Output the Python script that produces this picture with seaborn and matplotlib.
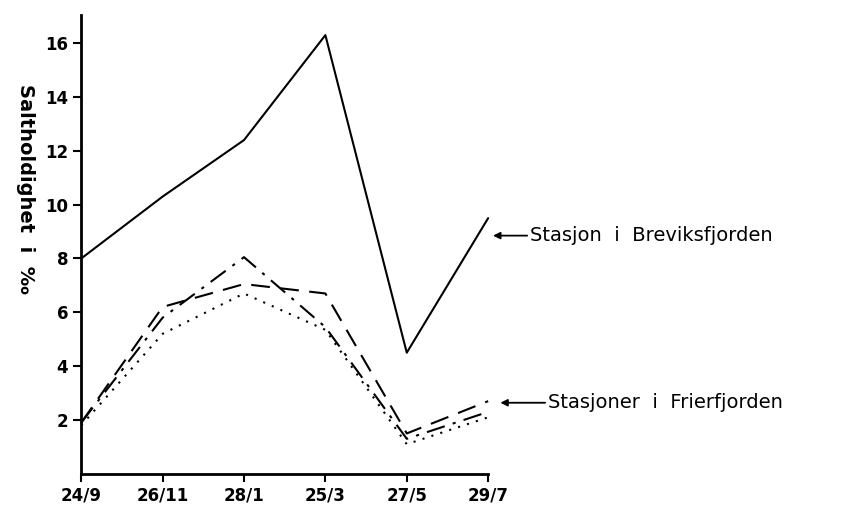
import numpy as np
import pandas as pd
import matplotlib
matplotlib.use("Agg")
import matplotlib.pyplot as plt
import seaborn as sns

# datoer (prøvetaking)
dates = ["24/9", "26/11", "28/1", "25/3", "27/5", "29/7"]

# salinitet i promille
breviksfjorden = [8.0, 10.3, 12.4, 16.3, 4.5, 9.5]
frier_dash = [1.9, 6.2, 7.05, 6.7, 1.5, 2.7]
frier_dashdot = [1.9, 5.8, 8.05, 5.45, 1.3, 2.3]
frier_dot = [1.8, 5.2, 6.7, 5.35, 1.1, 2.1]

yticks = [2, 4, 6, 8, 10, 12, 14, 16]

sns.set_style("ticks")
plt.rcParams["font.family"] = ["DejaVu Sans"]
plt.rcParams["text.color"] = "black"

fig = plt.figure(figsize=(8.64, 5.15), dpi=100)
ax = fig.add_axes([0.094, 0.080, 0.471, 0.891])

x = np.arange(len(dates))
series = [
    (breviksfjorden, "-"),
    (frier_dash, (0, (9, 5))),
    (frier_dashdot, (0, (9, 4, 1.5, 4))),
    (frier_dot, (0, (1, 3.5))),
]
for vals, ls in series:
    df = pd.DataFrame({"x": x, "y": vals})
    sns.lineplot(data=df, x="x", y="y", ax=ax, color="black",
                 linewidth=1.5, linestyle=ls, clip_on=False)

ax.set_xlim(0, len(dates) - 1)
ax.set_ylim(0, 17.05)
ax.set_xticks(x)
ax.set_xticklabels(dates, fontsize=12, fontweight="bold")
ax.set_yticks(yticks)
ax.set_yticklabels([str(t) for t in yticks], fontsize=12, fontweight="bold")
ax.tick_params(direction="out", length=6, width=1.5, color="black",
               labelcolor="black")
for side in ["left", "bottom"]:
    ax.spines[side].set_linewidth(2)
    ax.spines[side].set_color("black")
sns.despine(ax=ax)
ax.set_xlabel("")
ax.set_ylabel("Saltholdighet  i  ‰", fontsize=14, fontweight="bold",
              rotation=270, color="black")
ax.yaxis.set_label_coords(-0.16, 0.62)

arrow = dict(arrowstyle="-|>", color="black", lw=1.3, mutation_scale=10,
             shrinkA=0, shrinkB=0)
ax.annotate("Stasjon  i  Breviksfjorden", xy=(5.06, 8.85), xytext=(5.52, 8.85),
            va="center", ha="left", fontsize=14, arrowprops=arrow,
            annotation_clip=False)
ax.annotate("Stasjoner  i  Frierfjorden", xy=(5.15, 2.64), xytext=(5.74, 2.64),
            va="center", ha="left", fontsize=14, arrowprops=arrow,
            annotation_clip=False)

fig.savefig("out.png", dpi=100)
